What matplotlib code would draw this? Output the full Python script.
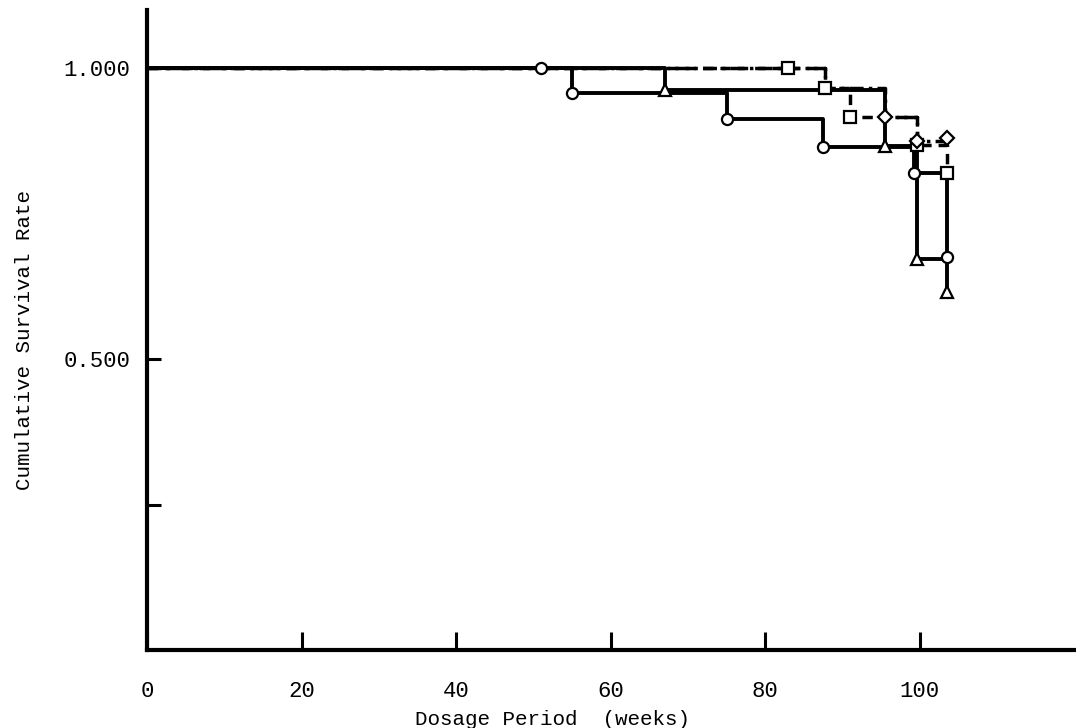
import numpy as np
import matplotlib.pyplot as plt

# Kaplan-Meier style step curves
circle_t = [0, 55, 75, 87.5, 99.3, 103.5]
circle_s = [1.0, 0.957, 0.913, 0.865, 0.820, 0.675]
circle_cens_t = [51]
circle_cens_s = [1.0]

tri_t = [0, 67, 95.5, 99.6, 103.5]
tri_s = [1.0, 0.962, 0.866, 0.673, 0.616]

sq_t = [0, 87.7, 91, 99.6, 103.5]
sq_s = [1.0, 0.966, 0.916, 0.868, 0.820]
sq_cens_t = [83]
sq_cens_s = [1.0]

dia_t = [0, 87.7, 95.5, 99.6, 103.5]
dia_s = [1.0, 0.966, 0.916, 0.875, 0.880]

xticks = [0, 20, 40, 60, 80, 100]
yticks = [1.0, 0.5, 0.25]
ytick_labels = ['1.000', '0.500', '']

plt.rcParams['font.family'] = ['Liberation Mono', 'DejaVu Sans Mono']

fig = plt.figure(figsize=(10.76, 7.28), dpi=100)
ax = fig.add_axes([0.1366, 0.107, 0.8634, 0.879])

mk = dict(mfc='white', mec='black', mew=1.6, ms=8, linestyle='none', zorder=5)

# dashed curves first so solid ones sit on top
ax.step(sq_t, sq_s, where='post', color='black', lw=2.5, linestyle=(0, (3, 2)))
ax.plot(sq_t[1:], sq_s[1:], marker='s', **mk)
ax.plot(sq_cens_t, sq_cens_s, marker='s', **mk)

ax.step(dia_t, dia_s, where='post', color='black', lw=2.5, linestyle=(0, (4, 1.5, 1, 1.5)))
ax.plot(dia_t[2:], dia_s[2:], marker='D', **dict(mk, ms=7))

ax.step(circle_t, circle_s, where='post', color='black', lw=2.8)
ax.plot(circle_t[1:], circle_s[1:], marker='o', **mk)
ax.plot(circle_cens_t, circle_cens_s, marker='o', **mk)

ax.step(tri_t, tri_s, where='post', color='black', lw=2.8)
ax.plot(tri_t[1:], tri_s[1:], marker='^', **mk)

ax.set_xlim(0, 120.2)
ax.set_ylim(0, 1.1)

for s in ['top', 'right']:
    ax.spines[s].set_visible(False)
ax.spines['left'].set_linewidth(3)
ax.spines['bottom'].set_linewidth(3)

ax.set_xticks(xticks)
ax.set_xticklabels([str(x) for x in xticks], fontsize=16)
ax.set_yticks(yticks)
ax.set_yticklabels(ytick_labels, fontsize=16)
ax.tick_params(axis='x', direction='in', length=13, width=2.2, pad=22)
ax.tick_params(axis='y', direction='in', length=10, width=2.2, pad=12)

ax.set_xlabel('Dosage Period  (weeks)', fontsize=15)
ax.xaxis.set_label_coords(0.437, -0.093)
ax.set_ylabel('Cumulative Survival Rate', fontsize=15)
ax.yaxis.set_label_coords(-0.122, 0.484)

fig.savefig('out.png', dpi=100)
